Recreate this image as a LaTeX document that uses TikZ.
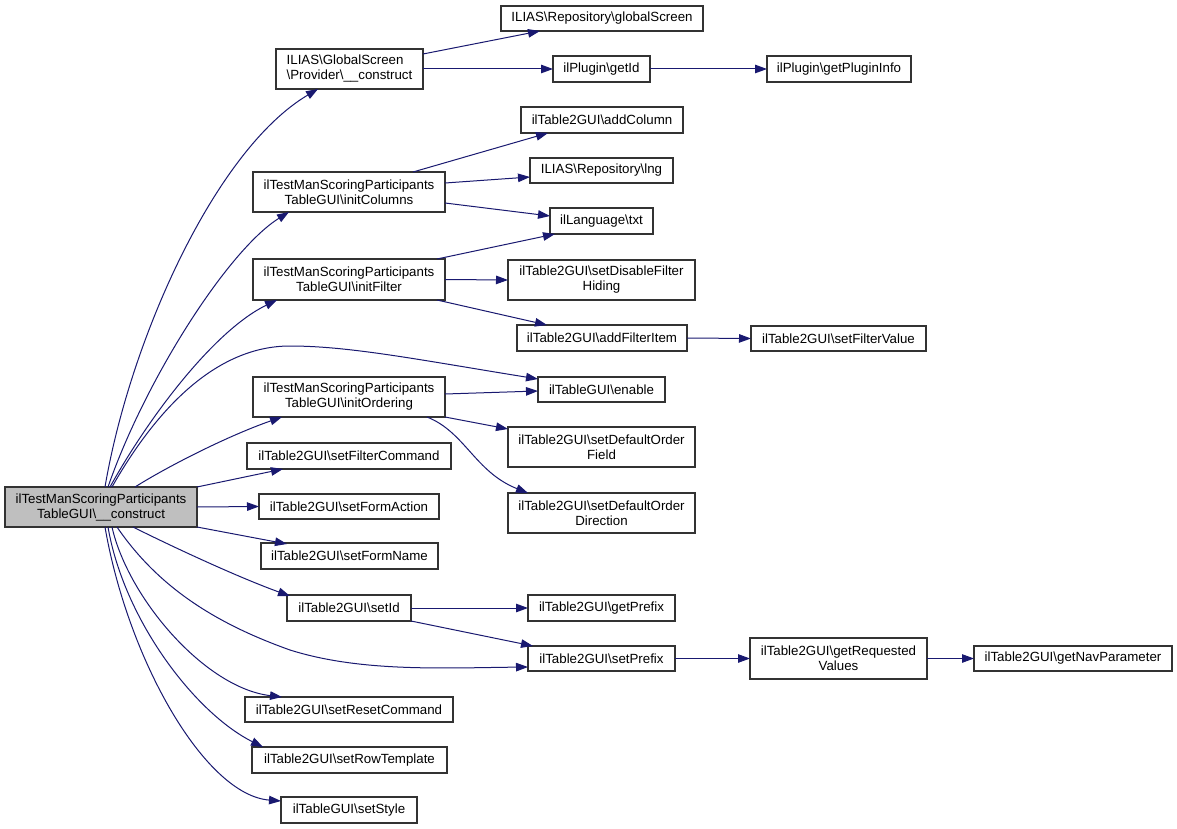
\documentclass[tikz,border=0pt]{standalone}
\usepackage{fontspec}
\setmainfont{Liberation Sans}
\usetikzlibrary{arrows.meta,calc}
\definecolor{edgecol}{HTML}{191970}
\definecolor{boxline}{HTML}{333333}
\newcommand{\bs}{\textbackslash}
\newcommand{\bx}[7][]{%
  \node[box,#1,minimum width={(#4-#2)*1pt},minimum height={(#5-#3)*1pt}] (#6) at ({(#2+#4)/2},{(#3+#5)/2}) {#7};}
\begin{document}
\begin{tikzpicture}[x=1pt,y=-1pt,
  box/.style={draw=boxline,line width=1.1pt,fill=white,inner sep=0pt,outer sep=0pt,align=center,
    font=\fontsize{13.3}{15}\selectfont},
  edge/.style={draw=edgecol,line width=1pt,-{Triangle[length=12pt,width=8.5pt]}}]
\useasboundingbox[fill=white] (0,0) rectangle (1177,829);
% nodes
\bx[fill={rgb,255:red,191;green,191;blue,191}]{5}{487}{197}{527}{main}{ilTestManScoringParticipants\\TableGUI\bs\_\_construct}
\bx[align=left]{276}{49}{423}{89}{prov}{ILIAS\bs GlobalScreen\\\bs Provider\bs\_\_construct}
\bx{501}{6}{703}{31}{gs}{ILIAS\bs Repository\bs globalScreen}
\bx{553}{56}{650}{82}{getid}{ilPlugin\bs getId}
\bx{767}{56}{911}{82}{gpi}{ilPlugin\bs getPluginInfo}
\bx{521}{107}{683}{133}{addcol}{ilTable2GUI\bs addColumn}
\bx{530}{158}{673}{183}{lng}{ILIAS\bs Repository\bs lng}
\bx{550}{208}{653}{234}{txt}{ilLanguage\bs txt}
\bx{253}{172}{445}{212}{initcol}{ilTestManScoringParticipants\\TableGUI\bs initColumns}
\bx{253}{259}{445}{300}{initfil}{ilTestManScoringParticipants\\TableGUI\bs initFilter}
\bx{508}{260}{695}{300}{sdfh}{ilTable2GUI\bs setDisableFilter\\Hiding}
\bx{517}{325}{687}{351}{afi}{ilTable2GUI\bs addFilterItem}
\bx{751}{326}{926}{351}{sfv}{ilTable2GUI\bs setFilterValue}
\bx{538}{377}{665}{402}{enable}{ilTableGUI\bs enable}
\bx{253}{377}{445}{417}{initord}{ilTestManScoringParticipants\\TableGUI\bs initOrdering}
\bx{508}{427}{695}{467}{sdof}{ilTable2GUI\bs setDefaultOrder\\Field}
\bx{508}{493}{695}{533}{sdod}{ilTable2GUI\bs setDefaultOrder\\Direction}
\bx{247}{443}{451}{469}{sfc}{ilTable2GUI\bs setFilterCommand}
\bx{259}{494}{439}{519}{sfa}{ilTable2GUI\bs setFormAction}
\bx{261}{543}{438}{569}{sfn}{ilTable2GUI\bs setFormName}
\bx{287}{595}{411}{621}{setid}{ilTable2GUI\bs setId}
\bx{528}{595}{675}{621}{getprefix}{ilTable2GUI\bs getPrefix}
\bx{528}{646}{675}{671}{setprefix}{ilTable2GUI\bs setPrefix}
\bx{750}{638}{927}{679}{grv}{ilTable2GUI\bs getRequested\\Values}
\bx{974}{646}{1172}{671}{gnp}{ilTable2GUI\bs getNavParameter}
\bx{245}{697}{453}{722}{src}{ilTable2GUI\bs setResetCommand}
\bx{252}{747}{447}{773}{srt}{ilTable2GUI\bs setRowTemplate}
\bx{281}{797}{417}{823}{sstyle}{ilTableGUI\bs setStyle}
% edges from main
\draw[edge] ($(main.north west)+(100,0)$) .. controls (130,340) and (215,150) .. ($(prov.south west)+(42,0)$);
\draw[edge] ($(main.north west)+(103,0)$) .. controls (145,380) and (228,250) .. ($(initcol.south west)+(36,0)$);
\draw[edge] ($(main.north west)+(105,0)$) .. controls (150,415) and (215,330) .. ($(initfil.south west)+(24,0)$);
\draw[edge] ($(main.north west)+(107,0)$) .. controls (150,420) and (210,346) .. (290,346) .. controls (350,346) and (420,360) .. ($(enable.north west)+(0,2)$);
\draw[edge] ($(main.north west)+(130,0)$) .. controls (170,465) and (230,435) .. ($(initord.south west)+(29,0)$);
\draw[edge] (main.north east) -- ($(sfc.south west)+(36,0)$);
\draw[edge] (main.east) -- (sfa.west);
\draw[edge] (main.south east) -- ($(sfn.north west)+(26,1)$);
\draw[edge] ($(main.south west)+(128,0)$) .. controls (175,548) and (240,578) .. ($(setid.north west)+(3,1)$);
\draw[edge] ($(main.south west)+(112,0)$) .. controls (160,590) and (220,625) .. (290,650) .. controls (360,672) and (440,668) .. ($(setprefix.south west)+(0,-4)$);
\draw[edge] ($(main.south west)+(107,0)$) .. controls (128,598) and (205,688) .. ($(src.north west)+(37,0)$);
\draw[edge] ($(main.south west)+(103,0)$) .. controls (124,620) and (195,713) .. ($(srt.north west)+(11,0)$);
\draw[edge] ($(main.south west)+(100,0)$) .. controls (128,660) and (205,795) .. ($(sstyle.north west)+(0,4)$);
% other edges
\draw[edge] ($(prov.north east)+(0,5)$) -- ($(gs.south west)+(39,0)$);
\draw[edge] (prov.east) -- (getid.west);
\draw[edge] (getid.east) -- (gpi.west);
\draw[edge] ($(initcol.north west)+(160,0)$) -- ($(addcol.south west)+(27,0)$);
\draw[edge] ($(initcol.north east)+(0,11)$) -- ($(lng.west)+(0,6.5)$);
\draw[edge] ($(initcol.south east)+(0,-9)$) -- ($(txt.west)+(0,-5)$);
\draw[edge] ($(initfil.north west)+(184,0)$) -- ($(txt.south west)+(5,0)$);
\draw[edge] (initfil.east) -- (sdfh.west);
\draw[edge] ($(initfil.south west)+(184,0)$) -- ($(afi.north west)+(30,0)$);
\draw[edge] (afi.east) -- (sfv.west);
\draw[edge] ($(initord.north east)+(0,17)$) -- ($(enable.west)+(0,1.5)$);
\draw[edge] (initord.south east) -- ($(sdof.north west)+(0,2)$);
\draw[edge] ($(initord.south east)+(-18,0)$) .. controls (465,432) and (475,472) .. ($(sdod.north west)+(20,0)$);
\draw[edge] (setid.east) -- (getprefix.west);
\draw[edge] (setid.south east) -- ($(setprefix.north west)+(5,0)$);
\draw[edge] (setprefix.east) -- (grv.west);
\draw[edge] (grv.east) -- (gnp.west);
\end{tikzpicture}
\end{document}
